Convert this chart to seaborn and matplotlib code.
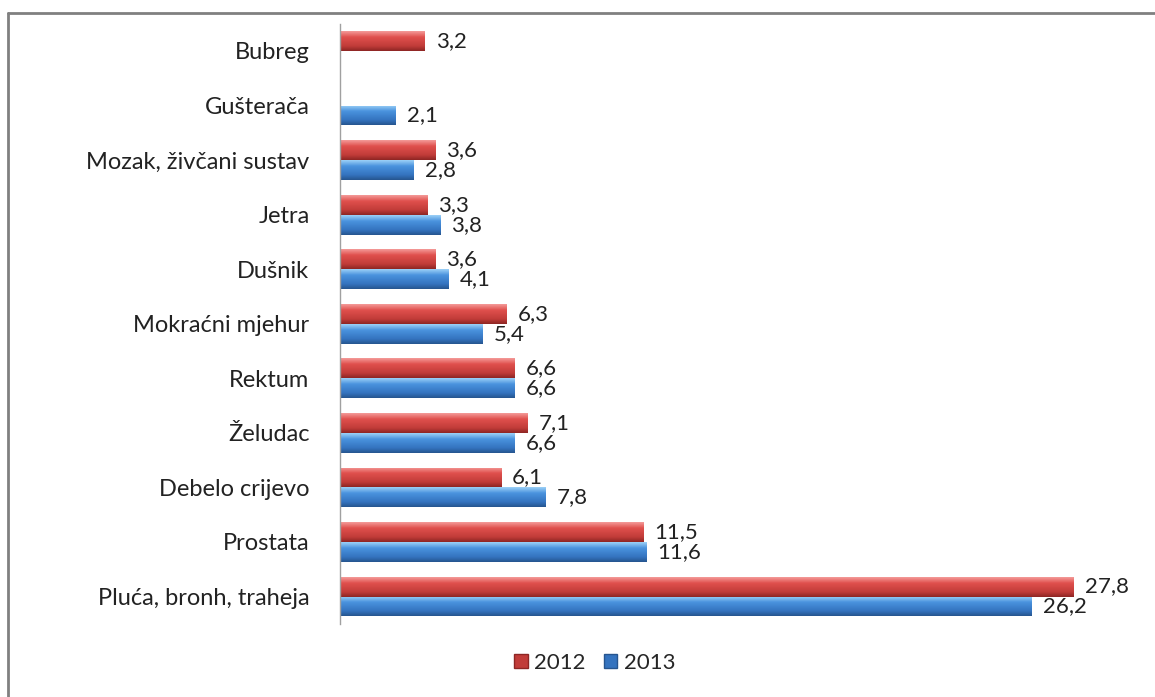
import numpy as np
import pandas as pd
import matplotlib
matplotlib.use("Agg")
import matplotlib.pyplot as plt
import seaborn as sns
from matplotlib.colors import LinearSegmentedColormap
from matplotlib.lines import Line2D
from matplotlib.patches import Patch

# data (top -> bottom)
categories = ["Bubreg", "Gušterača", "Mozak, živčani sustav", "Jetra", "Dušnik",
              "Mokraćni mjehur", "Rektum", "Želudac", "Debelo crijevo",
              "Prostata", "Pluća, bronh, traheja"]
vals_2012 = [3.2, np.nan, 3.6, 3.3, 3.6, 6.3, 6.6, 7.1, 6.1, 11.5, 27.8]
vals_2013 = [np.nan, 2.1, 2.8, 3.8, 4.1, 5.4, 6.6, 6.6, 7.8, 11.6, 26.2]
years = ["2012", "2013"]

df = pd.DataFrame({
    "kat": categories * 2,
    "god": [years[0]] * len(categories) + [years[1]] * len(categories),
    "val": vals_2012 + vals_2013,
})

red = "#C0413C"
blue = "#3B7DC9"
grad = {
    "2012": ["#F49A98", "#E0504D", "#C13C39", "#8E2624"],
    "2013": ["#9CD0F7", "#4A93DE", "#3473BF", "#26558F"],
}

sns.set_style("white")
plt.rcParams["font.family"] = ["Lato", "DejaVu Sans"]

fig = plt.figure(figsize=(11.55, 6.97), dpi=100)
ax = fig.add_axes([0.2944, 0.105, 0.6856, 0.861])

sns.barplot(data=df, x="val", y="kat", hue="god", order=categories,
            hue_order=years, palette=[red, blue], orient="h", width=0.73,
            errorbar=None, ax=ax, legend=False)

ax.set_xlim(0, 30)
ylim = ax.get_ylim()

# bevel-like gradient on each bar
for cont, yr in zip(ax.containers, years):
    cmap = LinearSegmentedColormap.from_list(
        yr, list(zip([0, 0.3, 0.75, 1.0], grad[yr])))
    g = np.linspace(0, 1, 64).reshape(-1, 1)
    for p in cont.patches:
        w = p.get_width()
        if not np.isfinite(w) or w == 0:
            continue
        x0, y0, h = p.get_x(), p.get_y(), p.get_height()
        im = ax.imshow(g, cmap=cmap, aspect="auto", origin="upper",
                       extent=(x0, x0 + w, y0 + h, y0), zorder=p.get_zorder() + 0.1)
        im.set_clip_path(p)
    labels = [f"{p.get_width():.1f}".replace(".", ",")
              if np.isfinite(p.get_width()) and p.get_width() > 0 else ""
              for p in cont.patches]
    ax.bar_label(cont, labels=labels, padding=8, fontsize=16, color="#222222")

ax.set_xlim(0, 30)
ax.set_ylim(ylim)

ax.set_xlabel("")
ax.set_ylabel("")
ax.set_xticks([])
for s in ["top", "right", "bottom"]:
    ax.spines[s].set_visible(False)
ax.spines["left"].set_color("#A0A0A0")
ax.spines["left"].set_linewidth(1)
ax.tick_params(axis="y", length=0, pad=22, labelsize=17, labelcolor="#222222")

handles = [Patch(facecolor=grad["2012"][2], edgecolor=grad["2012"][3]),
           Patch(facecolor=grad["2013"][2], edgecolor=grad["2013"][3])]
fig.legend(handles, years, loc="center", bbox_to_anchor=(0.515, 0.049), ncol=2,
           frameon=False, fontsize=16, handlelength=0.6, handleheight=0.6,
           handletextpad=0.3, columnspacing=0.8)

# outer chart border (only top and left visible in the crop)
fig.add_artist(Line2D([0.007, 1.0], [0.981, 0.981], transform=fig.transFigure,
                      color="#808080", lw=2))
fig.add_artist(Line2D([0.007, 0.007], [0.0, 0.981], transform=fig.transFigure,
                      color="#808080", lw=2))

fig.savefig("out.png", dpi=100)
